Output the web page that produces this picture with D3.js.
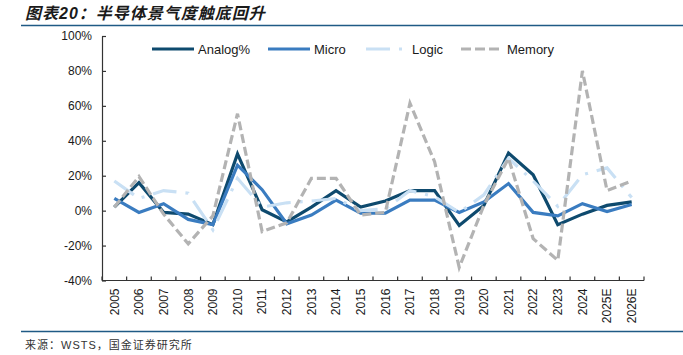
<!DOCTYPE html>
<html><head><meta charset="utf-8">
<script src="https://cdn.jsdelivr.net/npm/d3@7"></script>
<style>
html,body{margin:0;padding:0;background:#fff;}
svg{display:block;}
</style></head>
<body>
<script>
const categories = ["2005","2006","2007","2008","2009","2010","2011","2012","2013","2014","2015","2016","2017","2018","2019","2020","2021","2022","2023","2024","2025E","2026E"];
const analog = [2, 16, -1, -2, -8, 32.5, 0.5, -6.5, 2, 11.5, 2, 5.5, 11.5, 11.5, -8.5, 3, 33, 20.5, -8, -2, 3, 5];
const micro  = [7, -1, 4, -5, -8, 26, 12, -7.5, -2.5, 6, -1.5, -1.5, 6, 6, -1, 5, 15.5, -1, -3, 4, -0.5, 3.5];
const logic  = [17, 7, 11.5, 10, -11, 18.5, 2, 4.5, 5.5, 7, 0, 1, 11.5, 8, -1, 9, 30, 17, 2.5, 20.5, 24.5, 7.5];
const memory = [2, 19.5, -2, -19, -3, 55.5, -12, -7, 18.5, 18.5, -2.5, -1, 61.5, 28, -32.5, 3, 30, -16, -28.5, 80, 11.5, 17];
const yTicks = [-40, -20, 0, 20, 40, 60, 80, 100];
const seriesNames = ["Analog%", "Micro", "Logic", "Memory"];
const titleText = "图表20：半导体景气度触底回升";
const sourceText = "来源：WSTS，国金证券研究所";

const W = 683, H = 355;
const svg = d3.select("body").append("svg").attr("width", W).attr("height", H);
svg.append("rect").attr("width", W).attr("height", H).attr("fill", "#fff");

const styles = [
  {color: "#0e4a6e", dash: null},
  {color: "#3a7cc0", dash: null},
  {color: "#c9e0f4", dash: "24,9,3,9"},
  {color: "#b3b3b3", dash: "9,4"}
];
const seriesData = [analog, micro, logic, memory];

// title
svg.append("text").attr("x", 25).attr("y", 18.5)
  .attr("font-family", "'Liberation Sans','Noto Sans CJK SC',sans-serif")
  .attr("font-size", 16).attr("font-weight", "bold").attr("font-style", "italic")
  .attr("letter-spacing", 1).attr("fill", "#1a1a1a").text(titleText);
svg.append("line").attr("x1", 21).attr("x2", 683).attr("y1", 25.5).attr("y2", 25.5)
  .attr("stroke", "#1f5a85").attr("stroke-width", 1.5);
svg.append("line").attr("x1", 21).attr("x2", 683).attr("y1", 331.5).attr("y2", 331.5)
  .attr("stroke", "#1f5a85").attr("stroke-width", 1.5);
svg.append("text").attr("x", 25).attr("y", 349)
  .attr("font-family", "'Liberation Sans','Noto Sans CJK SC',sans-serif")
  .attr("font-size", 11).attr("letter-spacing", 1).attr("fill", "#333").text(sourceText);

const x = d3.scaleBand().domain(categories).range([102, 644]).paddingInner(0).paddingOuter(0);
const y = d3.scaleLinear().domain([-40, 100]).range([280.5, 36]);
const cx = c => x(c) + x.bandwidth() / 2;

// y axis
const yAxis = d3.axisLeft(y).tickValues(yTicks).tickFormat(d => d + "%")
  .tickSizeInner(-4).tickSizeOuter(0).tickPadding(10);
const gy = svg.append("g").attr("transform", "translate(102,0)").call(yAxis);
gy.selectAll("path,line").attr("stroke", "#333").attr("stroke-width", 1.2);
gy.selectAll("text").attr("font-family", "'Liberation Sans',Arial,sans-serif").attr("font-size", 12).attr("fill", "#1a1a1a");

// x axis
const gx = svg.append("g").attr("transform", "translate(0,280.5)");
gx.append("line").attr("x1", 102).attr("x2", 644).attr("y1", 0).attr("y2", 0).attr("stroke", "#333").attr("stroke-width", 1.2);
const bounds = categories.map(c => x(c)).concat([x.range()[1]]);
gx.selectAll("line.tk").data(bounds).join("line").attr("class", "tk")
  .attr("x1", d => d).attr("x2", d => d).attr("y1", 0).attr("y2", -4)
  .attr("stroke", "#333").attr("stroke-width", 1.2);
gx.selectAll("text.lb").data(categories).join("text").attr("class", "lb")
  .attr("transform", d => `translate(${cx(d) + 4.3},8) rotate(-90)`)
  .attr("text-anchor", "end")
  .attr("font-family", "'Liberation Sans',Arial,sans-serif").attr("font-size", 12).attr("fill", "#1a1a1a")
  .text(d => d);

// lines
const line = d3.line().x((d, i) => cx(categories[i])).y(d => y(d));
seriesData.forEach((s, k) => {
  const p = svg.append("path").datum(s).attr("d", line)
    .attr("fill", "none").attr("stroke", styles[k].color).attr("stroke-width", 3.2)
    .attr("stroke-linejoin", "miter");
  if (styles[k].dash) p.attr("stroke-dasharray", styles[k].dash);
});

// legend
const legendX = [152, 268, 366, 461];
const lg = svg.append("g");
seriesNames.forEach((n, k) => {
  const l = lg.append("line").attr("x1", legendX[k]).attr("x2", legendX[k] + 42)
    .attr("y1", 49).attr("y2", 49).attr("stroke", styles[k].color).attr("stroke-width", 3.2);
  if (styles[k].dash) l.attr("stroke-dasharray", k === 3 ? "10,4" : styles[k].dash);
  lg.append("text").attr("x", legendX[k] + 46).attr("y", 53.5)
    .attr("font-family", "'Liberation Sans',Arial,sans-serif").attr("font-size", 13).attr("fill", "#1a1a1a")
    .text(n);
});
</script>
</body></html>
